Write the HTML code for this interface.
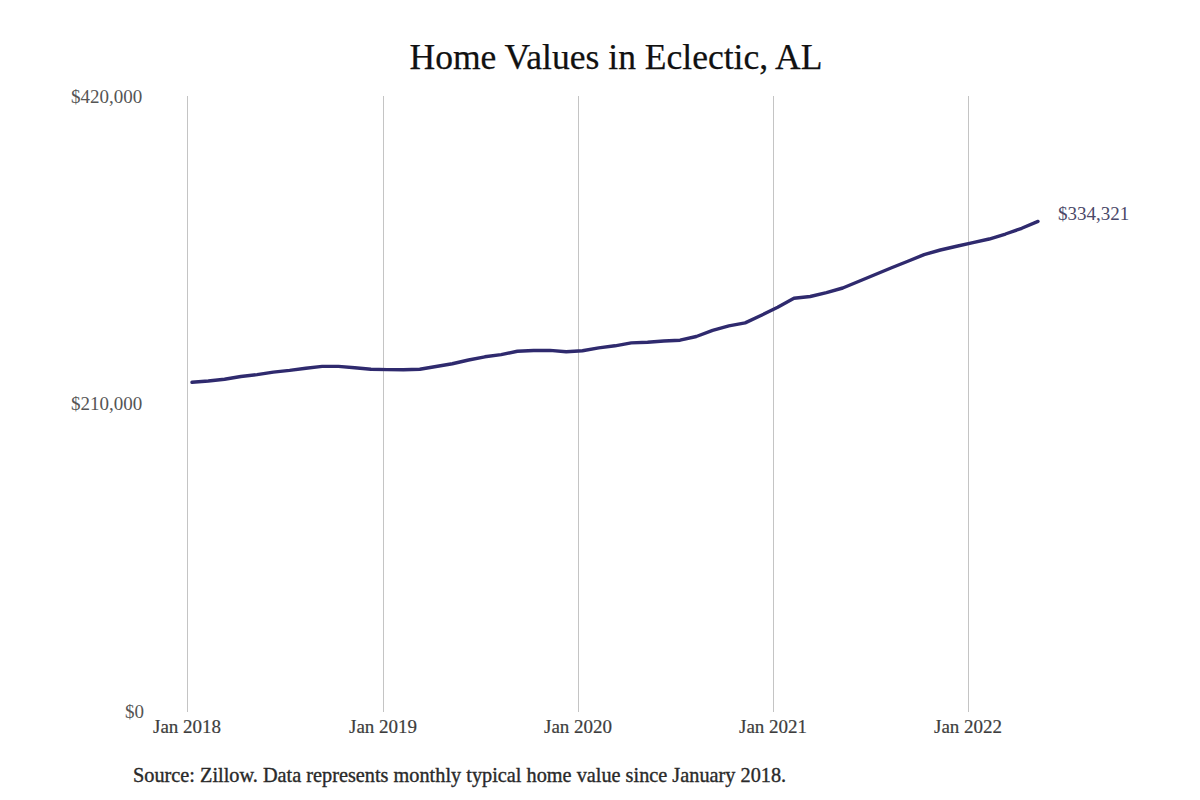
<!DOCTYPE html>
<html><head><meta charset="utf-8"><style>
html,body{margin:0;padding:0;background:#fff;}
body{width:1200px;height:800px;position:relative;overflow:hidden;font-family:"Liberation Serif",serif;}
.t{position:absolute;white-space:nowrap;line-height:1;}
#title{left:409.5px;top:40px;font-size:35.55px;color:#111;-webkit-text-stroke:0.25px #111;}
.yl{font-size:19px;color:#555;}
.xl{font-size:19px;color:#3d3d3d;-webkit-text-stroke:0.2px #3d3d3d;}
#src{left:133px;top:765px;font-size:20.3px;color:#2a2a2a;-webkit-text-stroke:0.35px #2a2a2a;}
#val{left:1058px;top:204px;font-size:19px;color:#4a4868;}
svg{position:absolute;left:0;top:0;}
</style></head><body>
<svg width="1200" height="800" viewBox="0 0 1200 800">
<g stroke="#c4c4c4" stroke-width="1">
<line x1="187.5" y1="96" x2="187.5" y2="712"/>
<line x1="383.5" y1="96" x2="383.5" y2="712"/>
<line x1="578.5" y1="96" x2="578.5" y2="712"/>
<line x1="773.5" y1="96" x2="773.5" y2="712"/>
<line x1="968.5" y1="96" x2="968.5" y2="712"/>
</g>
<path d="M192.00,382.30 L208.27,381.00 L224.54,379.30 L240.81,376.50 L257.08,374.60 L273.35,372.10 L289.62,370.40 L305.88,368.20 L322.15,366.40 L338.42,366.40 L354.69,367.75 L370.96,369.20 L387.23,369.60 L403.50,369.70 L419.77,369.30 L436.04,366.50 L452.31,363.75 L468.58,360.00 L484.85,356.80 L501.12,354.60 L517.38,351.25 L533.65,350.50 L549.92,350.40 L566.19,351.70 L582.46,350.70 L598.73,347.90 L615.00,345.80 L631.27,342.90 L647.54,342.30 L663.81,341.00 L680.08,340.20 L696.35,336.50 L712.62,330.40 L728.88,325.80 L745.15,322.90 L761.42,315.30 L777.69,307.30 L793.96,298.30 L810.23,296.50 L826.50,292.60 L842.77,288.00 L859.04,281.30 L875.31,274.50 L891.58,267.80 L907.85,261.25 L924.12,254.60 L940.38,250.00 L956.65,246.25 L972.92,242.60 L989.19,239.00 L1005.46,234.00 L1021.73,228.30 L1038.00,221.40" fill="none" stroke="#2f2a6e" stroke-width="3.4" stroke-linecap="round" stroke-linejoin="round"/>
</svg>
<div class="t" id="title">Home Values in Eclectic, AL</div>
<div class="t yl" style="left:71px;top:87px">$420,000</div>
<div class="t yl" style="left:71px;top:394px">$210,000</div>
<div class="t yl" style="left:125px;top:702px">$0</div>
<div class="t xl" style="left:153px;top:717px">Jan 2018</div>
<div class="t xl" style="left:349px;top:717px">Jan 2019</div>
<div class="t xl" style="left:544px;top:717px">Jan 2020</div>
<div class="t xl" style="left:739px;top:717px">Jan 2021</div>
<div class="t xl" style="left:934px;top:717px">Jan 2022</div>
<div class="t" id="src">Source: Zillow. Data represents monthly typical home value since January 2018.</div>
<div class="t" id="val">$334,321</div>
</body></html>
